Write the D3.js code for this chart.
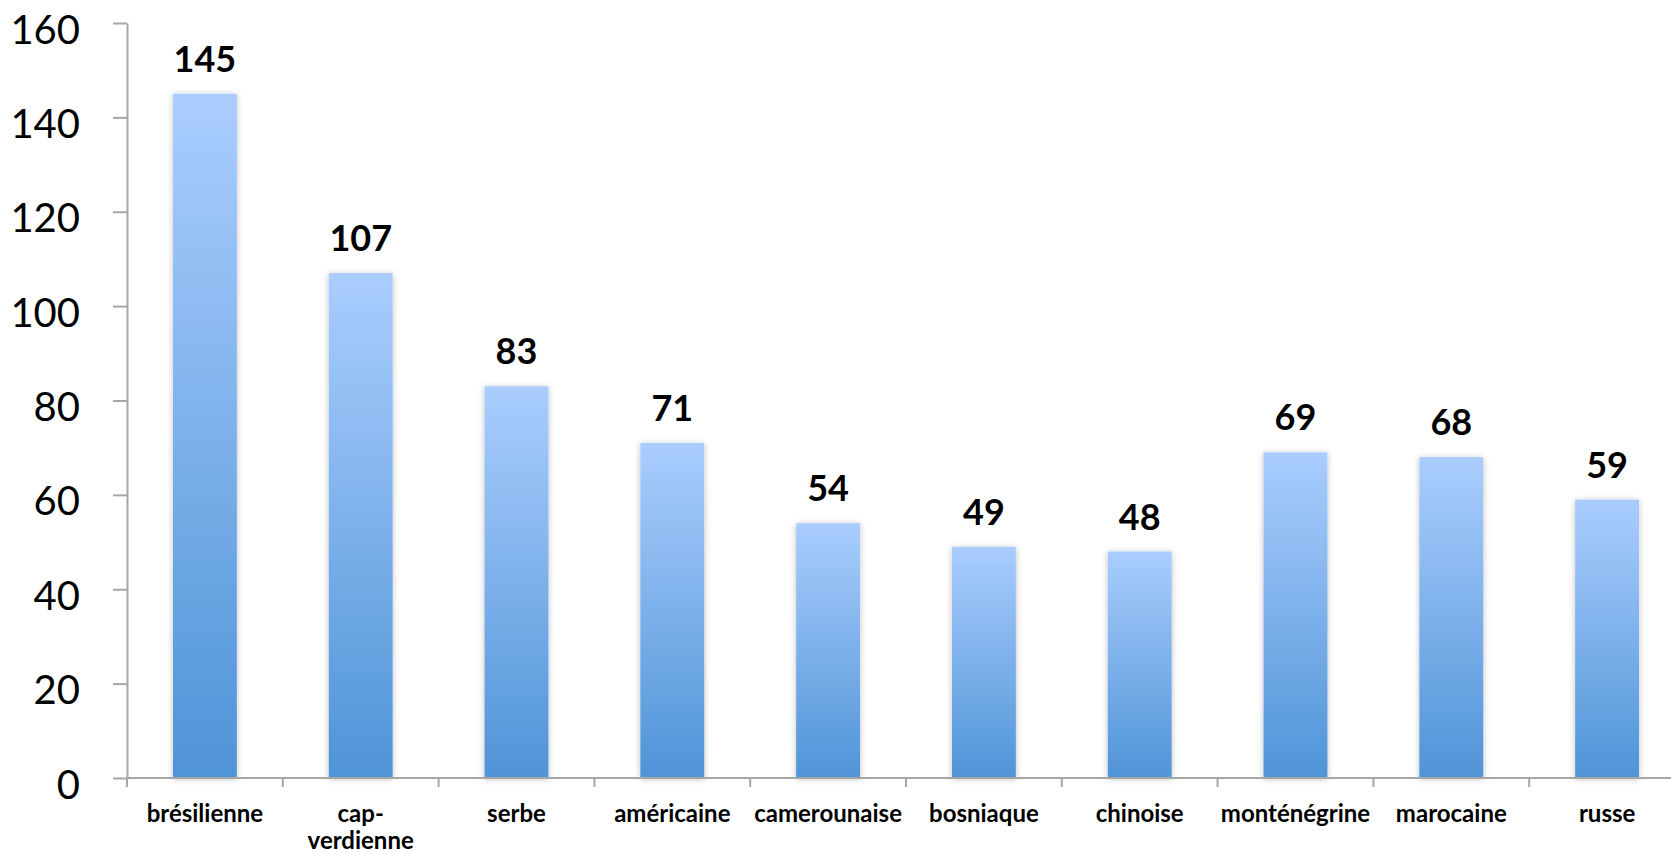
<!DOCTYPE html>
<html>
<head>
<meta charset="utf-8">
<script src="https://cdn.jsdelivr.net/npm/d3@7"></script>
<style>
  body { margin: 0; background: #fff; }
  svg { display: block; }
</style>
</head>
<body>
<script>
var categories = ["brésilienne", "cap-verdienne", "serbe", "américaine", "camerounaise", "bosniaque", "chinoise", "monténégrine", "marocaine", "russe"];
var values = [145, 107, 83, 71, 54, 49, 48, 69, 68, 59];
var yTicks = [0, 20, 40, 60, 80, 100, 120, 140, 160];

var svgWidth = 1671;
var svgHeight = 854;

var x0 = 127, x1 = 1685, yTop = 23, yBottom = 778;
var axisColor = "#a6a6a6";
var font = "Lato, 'Open Sans', sans-serif";

var svg = d3.select("body")
  .append("svg")
  .attr("width", svgWidth)
  .attr("height", svgHeight);

var defs = svg.append("defs");
var grad = defs.append("linearGradient")
  .attr("id", "barGrad")
  .attr("x1", 0).attr("y1", 0).attr("x2", 0).attr("y2", 1);
grad.append("stop").attr("offset", "0%").attr("stop-color", "#aacdfe");
grad.append("stop").attr("offset", "100%").attr("stop-color", "#4f94d7");

var shadow = defs.append("filter").attr("id", "shadow")
  .attr("x", "-20%").attr("y", "-5%").attr("width", "140%").attr("height", "110%");
shadow.append("feDropShadow")
  .attr("dx", 0).attr("dy", 1).attr("stdDeviation", 3)
  .attr("flood-color", "#000").attr("flood-opacity", 0.25);

var xScale = d3.scaleBand()
  .domain(categories)
  .range([x0, x1])
  .paddingInner(0.59)
  .paddingOuter(0.295);

var yScale = d3.scaleLinear()
  .domain([0, 160])
  .range([yBottom, yTop]);

// bars
svg.selectAll("rect.bar")
  .data(values)
  .enter()
  .append("rect")
  .attr("class", "bar")
  .attr("x", (d, i) => xScale(categories[i]))
  .attr("y", d => yScale(d))
  .attr("width", xScale.bandwidth())
  .attr("height", d => yScale(0) - yScale(d))
  .attr("fill", "url(#barGrad)")
  .attr("filter", "url(#shadow)");

// value labels
svg.selectAll("text.value")
  .data(values)
  .enter()
  .append("text")
  .attr("class", "value")
  .attr("x", (d, i) => xScale(categories[i]) + xScale.bandwidth() / 2)
  .attr("y", d => yScale(d) - 22)
  .attr("text-anchor", "middle")
  .style("font-family", font)
  .style("font-weight", "bold")
  .style("font-size", "36px")
  .text(d => d);

// y axis
var leftAxis = d3.axisLeft(yScale)
  .tickValues(yTicks)
  .tickSize(14)
  .tickSizeOuter(0)
  .tickPadding(33);

var yAxisG = svg.append("g")
  .attr("transform", `translate(${x0}, 0)`)
  .call(leftAxis);
yAxisG.select(".domain").attr("stroke", axisColor).attr("stroke-width", 2);
yAxisG.selectAll(".tick line").attr("stroke", axisColor).attr("stroke-width", 2);
yAxisG.selectAll(".tick text")
  .attr("dy", "0.5em")
  .attr("fill", "#000")
  .style("font-family", font)
  .style("font-size", "40px");

// x axis line and boundary ticks
var step = xScale.step();
svg.append("line")
  .attr("x1", x0).attr("x2", x1)
  .attr("y1", yBottom).attr("y2", yBottom)
  .attr("stroke", axisColor).attr("stroke-width", 2);

svg.selectAll("line.xtick")
  .data(d3.range(categories.length + 1))
  .enter()
  .append("line")
  .attr("class", "xtick")
  .attr("x1", i => x0 + i * step).attr("x2", i => x0 + i * step)
  .attr("y1", yBottom).attr("y2", yBottom + 9)
  .attr("stroke", axisColor).attr("stroke-width", 2);

// category labels (hyphenated names wrap after the hyphen)
var catLabels = svg.selectAll("text.cat")
  .data(categories)
  .enter()
  .append("text")
  .attr("class", "cat")
  .attr("text-anchor", "middle")
  .attr("y", 822)
  .style("font-family", font)
  .style("font-weight", "bold")
  .style("font-size", "24px");

catLabels.each(function(d) {
  var cx = xScale(d) + xScale.bandwidth() / 2;
  var parts = d.indexOf("-") > 0 ? [d.slice(0, d.indexOf("-") + 1), d.slice(d.indexOf("-") + 1)] : [d];
  d3.select(this).selectAll("tspan")
    .data(parts)
    .enter()
    .append("tspan")
    .attr("x", cx)
    .attr("dy", (p, j) => j === 0 ? 0 : 27)
    .text(p => p);
});
</script>
</body>
</html>
